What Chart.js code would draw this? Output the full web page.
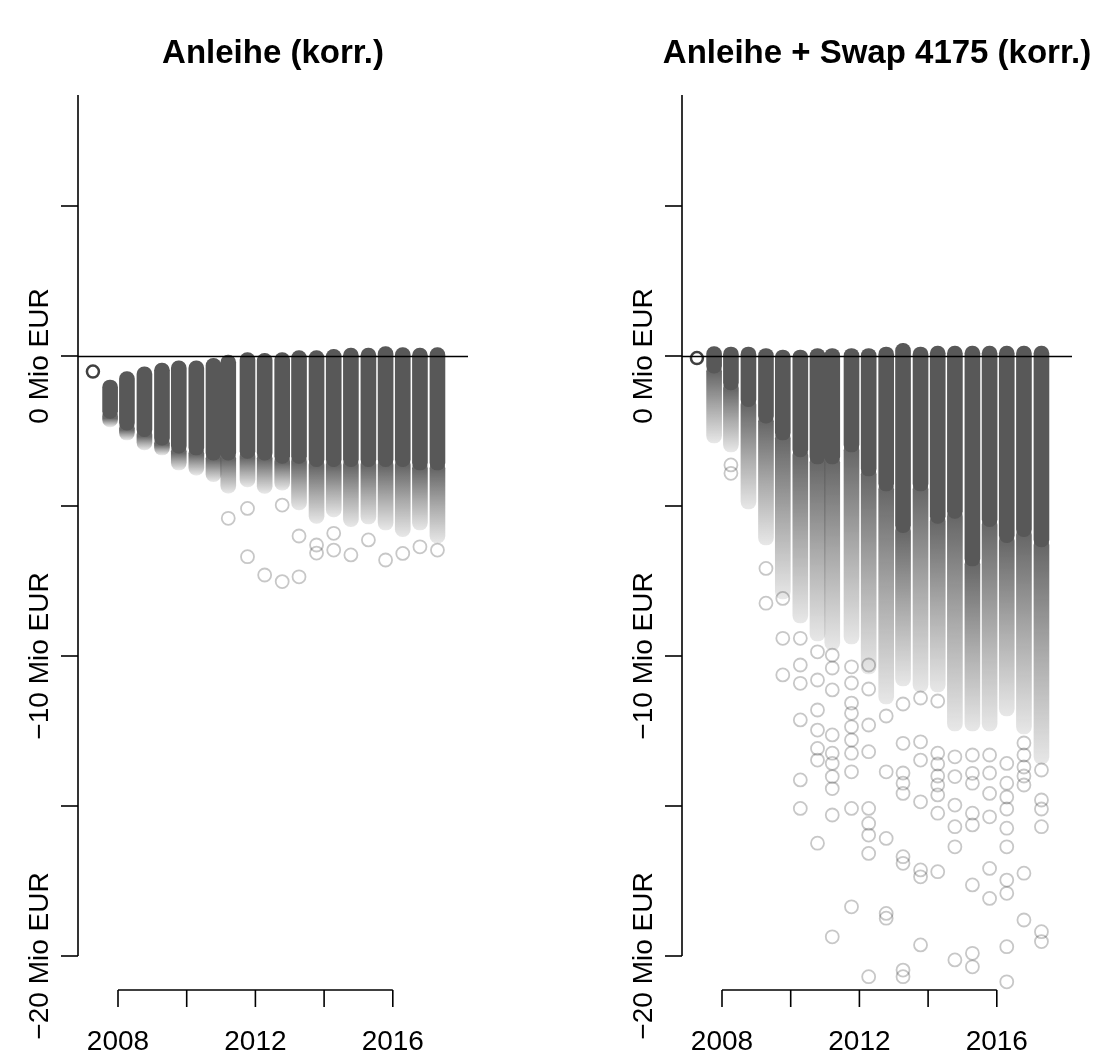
<!DOCTYPE html>
<html>
<head>
<meta charset="utf-8">
<script src="https://cdn.jsdelivr.net/npm/chart.js@4.4.0/dist/chart.umd.min.js"></script>
<style>
  html, body { margin: 0; padding: 0; background: #fff; }
  #wrap { position: relative; width: 1101px; height: 1054px; }
  #wrap canvas { position: absolute; left: 0; top: 0; }
</style>
</head>
<body>
<div id="wrap">
  <canvas id="bond" width="1101" height="1054"></canvas>
  <canvas id="swap" width="1101" height="1054"></canvas>
</div>
<script>
// dates[0] is today's value, the rest are the simulated half-year dates
var dates = [2007.27, 2007.77, 2008.26, 2008.77, 2009.28, 2009.77, 2010.28, 2010.78, 2011.21, 2011.77, 2012.27,
             2012.78, 2013.27, 2013.78, 2014.28, 2014.78, 2015.29, 2015.79, 2016.29, 2016.79, 2017.30];

var yTicks = [-20, -15, -10, -5, 0, 5];
var yLabels = ['\u221220 Mio EUR', '', '\u221210 Mio EUR', '', '0 Mio EUR', ''];
var xTicks = [2008, 2010, 2012, 2014, 2016];
var xLabels = ['2008', '', '2012', '', '2016'];

// Anleihe (korr.), Mio EUR
var bondNow = -0.52;
var bondTop  = [-0.8, -0.52, -0.36, -0.24, -0.16, -0.16, -0.08, 0.03, 0.11, 0.09, 0.11, 0.18, 0.18, 0.22, 0.26, 0.26, 0.31, 0.28, 0.26, 0.28];
var bondCore = [-2.08, -2.47, -2.69, -2.97, -3.24, -3.3, -3.47, -3.47, -3.41, -3.47, -3.58, -3.58, -3.69, -3.69, -3.69, -3.69, -3.69, -3.69, -3.8, -3.8];
var bondFade = [-2.36, -2.8, -3.13, -3.3, -3.8, -3.97, -4.19, -4.57, -4.36, -4.58, -4.47, -5.13, -5.58, -5.36, -5.69, -5.6, -5.8, -6.02, -5.8, -6.24];
var bondTails = [[], [], [], [], [], [], [], [-5.41], [-5.08, -6.69], [-7.3], [-4.97, -7.52], [-6.0, -7.36],
                 [-6.3, -6.57], [-5.91, -6.47], [-6.63], [-6.13], [-6.8], [-6.58], [-6.36], [-6.47]];

// Anleihe + Swap 4175 (korr.), Mio EUR
var swapNow = -0.07;
var swapTop  = [0.31, 0.3, 0.3, 0.25, 0.2, 0.2, 0.25, 0.25, 0.25, 0.25, 0.3, 0.42, 0.3, 0.33, 0.33, 0.33, 0.33, 0.33, 0.33, 0.33];
var swapCore = [-0.57, -1.13, -1.69, -2.24, -2.8, -3.36, -3.6, -3.6, -3.2, -4.0, -4.5, -5.89, -4.5, -5.58, -5.41, -7.0, -5.69, -6.22, -6.02, -6.36];
var swapFade = [-2.9, -3.2, -5.1, -6.3, -8.1, -8.9, -9.5, -9.8, -9.6, -10.6, -11.6, -11.0, -11.2, -11.2, -12.5, -12.5, -12.5, -12.0, -12.6, -13.6];
var swapTails = [
  [], [-3.63, -3.91], [], [-7.08, -8.24], [-8.08, -9.41, -10.63],
  [-9.41, -10.3, -10.91, -12.13, -14.13, -15.08],
  [-9.86, -10.8, -11.8, -12.47, -13.08, -13.47, -16.24],
  [-9.97, -10.4, -11.13, -12.63, -13.24, -13.58, -14.02, -14.42, -15.3, -19.36],
  [-10.36, -10.9, -11.57, -11.91, -12.36, -12.8, -13.24, -13.86, -15.08, -18.36],
  [-10.3, -11.1, -12.3, -13.19, -15.08, -15.58, -15.97, -16.58, -20.69],
  [-12.0, -13.86, -16.08, -18.58, -18.74],
  [-11.6, -12.91, -13.9, -14.24, -14.58, -16.69, -16.91, -20.47, -20.69],
  [-11.4, -12.86, -13.47, -14.86, -17.13, -17.36, -19.63],
  [-11.5, -13.24, -13.6, -14.0, -14.3, -14.63, -15.24, -17.19],
  [-13.36, -14.02, -14.97, -15.69, -16.36, -20.13],
  [-13.3, -13.91, -14.24, -15.24, -15.63, -17.63, -19.91, -20.36],
  [-13.3, -13.9, -14.58, -15.36, -17.08, -18.08],
  [-13.58, -14.24, -14.7, -15.1, -15.74, -16.36, -17.47, -17.91, -19.69, -20.86],
  [-12.9, -13.3, -13.7, -14.0, -14.3, -17.24, -18.8],
  [-13.8, -14.8, -15.1, -15.69, -19.19, -19.52]
];

var FONT = "'Liberation Sans', Arial, Helvetica, sans-serif";
var PX_PER_YEAR = 34.35;
var X_MIN = 2008 - 40 / PX_PER_YEAR;
var X_MAX = X_MIN + 390 / PX_PER_YEAR;

// R-style axes, title and the h = 0 line, drawn from the chart's scales
var rAxes = {
  id: 'rAxes',
  afterDatasetsDraw: function(chart, args, opts) {
    var ctx = chart.ctx, area = chart.chartArea;
    var x = chart.scales.x, y = chart.scales.y;
    ctx.save();
    ctx.strokeStyle = '#000';
    ctx.fillStyle = '#000';
    ctx.lineWidth = 1.6;

    // horizontal line at 0
    var y0 = Math.round(y.getPixelForValue(0)) + 0.5;
    ctx.beginPath();
    ctx.moveTo(area.left, y0);
    ctx.lineTo(area.right, y0);
    ctx.stroke();

    // y axis
    var ax = area.left;
    ctx.beginPath();
    ctx.moveTo(ax, area.top);
    ctx.lineTo(ax, y.getPixelForValue(yTicks[0]));
    ctx.stroke();
    ctx.font = '28px ' + FONT;
    ctx.textAlign = 'center';
    ctx.textBaseline = 'alphabetic';
    yTicks.forEach(function(v, i) {
      var py = y.getPixelForValue(v);
      ctx.beginPath();
      ctx.moveTo(ax - 17, py);
      ctx.lineTo(ax, py);
      ctx.stroke();
      if (yLabels[i]) {
        ctx.save();
        ctx.translate(ax - 30, py);
        ctx.rotate(-Math.PI / 2);
        ctx.fillText(yLabels[i], 0, 0);
        ctx.restore();
      }
    });

    // x axis
    var ay = area.bottom;
    ctx.beginPath();
    ctx.moveTo(x.getPixelForValue(xTicks[0]), ay);
    ctx.lineTo(x.getPixelForValue(xTicks[xTicks.length - 1]), ay);
    ctx.stroke();
    xTicks.forEach(function(v, i) {
      var px = x.getPixelForValue(v);
      ctx.beginPath();
      ctx.moveTo(px, ay);
      ctx.lineTo(px, ay + 17);
      ctx.stroke();
      if (xLabels[i]) ctx.fillText(xLabels[i], px, ay + 60);
    });

    // title
    ctx.font = 'bold 33px ' + FONT;
    ctx.fillText(opts.text, (area.left + area.right) / 2, 63);
    ctx.restore();
  }
};

function makePanel(id, titleText, padLeft, now, tops, cores, fades, tails) {
  var cols = dates.slice(1);
  var coreData = cols.map(function(d, i) { return {x: d, y: [cores[i], tops[i]]}; });
  var fadeData = cols.map(function(d, i) { return {x: d, y: [fades[i], cores[i] + 0.3]}; });
  var tailData = [];
  tails.forEach(function(list, i) {
    list.forEach(function(v) { tailData.push({x: cols[i], y: v}); });
  });

  return new Chart(document.getElementById(id), {
    type: 'bar',
    data: {
      datasets: [
        {
          type: 'scatter',
          data: [{x: dates[0], y: now}],
          pointRadius: 6,
          borderWidth: 2.5,
          borderColor: 'rgba(30,30,30,0.85)',
          backgroundColor: 'rgba(0,0,0,0)',
          order: 0
        },
        {
          type: 'scatter',
          data: tailData,
          pointRadius: 6.5,
          borderWidth: 1.8,
          borderColor: 'rgba(0,0,0,0.22)',
          backgroundColor: 'rgba(0,0,0,0)',
          clip: false,
          order: 1
        },
        {
          data: coreData,
          backgroundColor: 'rgb(88,88,88)',
          barThickness: 15,
          borderRadius: 7.5,
          borderSkipped: false,
          grouped: false,
          order: 2
        },
        {
          data: fadeData,
          backgroundColor: function(c) {
            var chart = c.chart, y = chart.scales.y;
            if (!y || c.dataIndex === undefined) return 'rgba(88,88,88,0.4)';
            var i = c.dataIndex;
            var p0 = y.getPixelForValue(cores[i]), p1 = y.getPixelForValue(fades[i]);
            if (!isFinite(p0) || !isFinite(p1) || p0 === p1) return 'rgba(88,88,88,0.4)';
            var g = chart.ctx.createLinearGradient(0, p0, 0, p1);
            g.addColorStop(0, 'rgba(88,88,88,0.9)');
            g.addColorStop(0.5, 'rgba(88,88,88,0.5)');
            g.addColorStop(1, 'rgba(88,88,88,0.14)');
            return g;
          },
          barThickness: 15,
          borderRadius: 7.5,
          borderSkipped: false,
          grouped: false,
          order: 3
        }
      ]
    },
    options: {
      responsive: false,
      animation: false,
      events: [],
      layout: {padding: {left: padLeft, right: 1101 - padLeft - 390, top: 95, bottom: 64}},
      scales: {
        x: {type: 'linear', min: X_MIN, max: X_MAX, offset: false, grid: {offset: false}, display: false},
        y: {type: 'linear', min: -634 / 30, max: 261 / 30, display: false}
      },
      plugins: {
        legend: {display: false},
        tooltip: {enabled: false},
        rAxes: {text: titleText}
      }
    },
    plugins: [rAxes]
  });
}

makePanel('bond', 'Anleihe (korr.)', 78, bondNow, bondTop, bondCore, bondFade, bondTails);
makePanel('swap', 'Anleihe + Swap 4175 (korr.)', 682, swapNow, swapTop, swapCore, swapFade, swapTails);
</script>
</body>
</html>
